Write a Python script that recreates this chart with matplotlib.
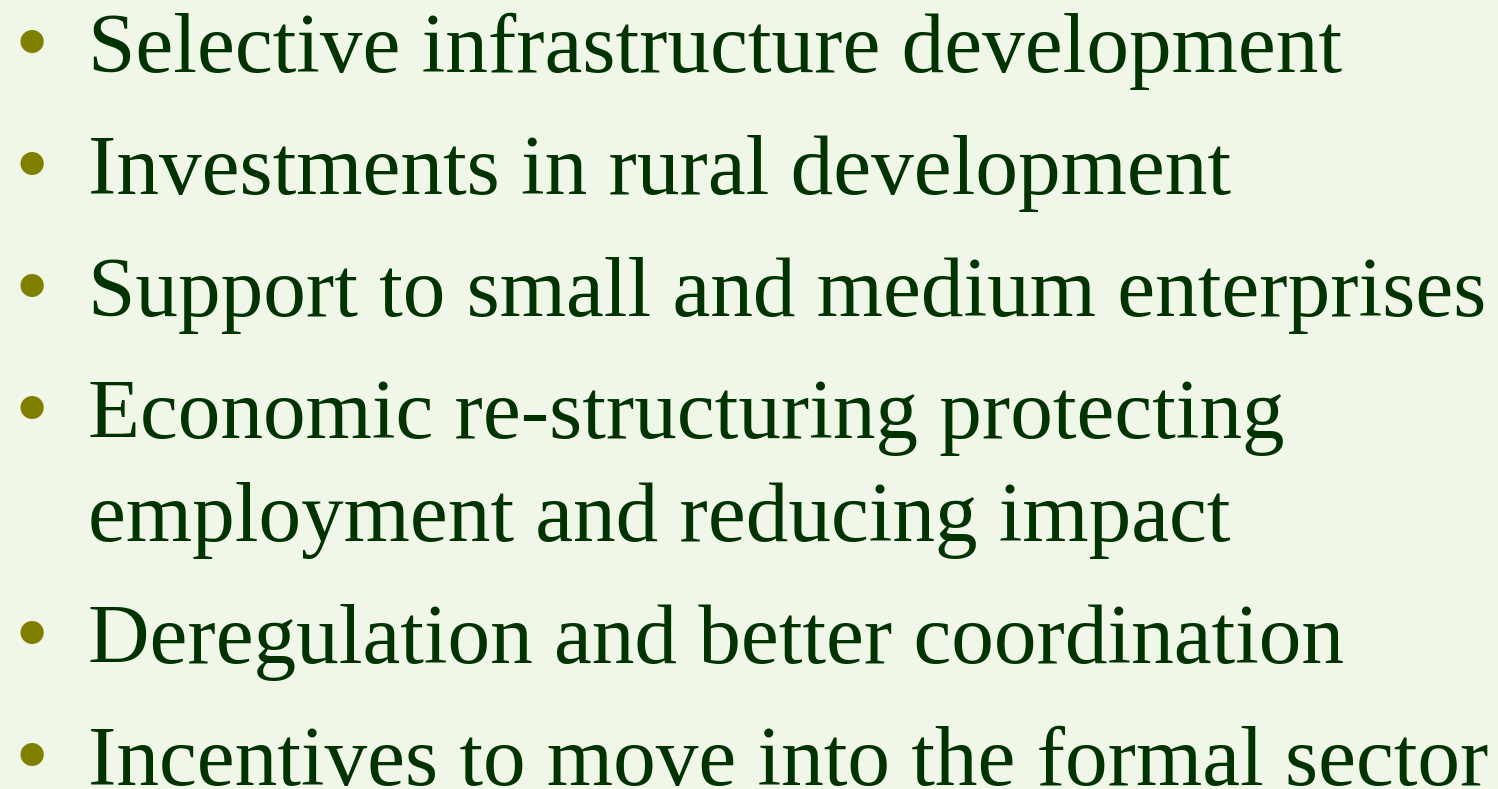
import matplotlib.pyplot as plt

# slide content: each item is a list of wrapped lines
items = [
    ["Selective infrastructure development"],
    ["Investments in rural development"],
    ["Support to small and medium enterprises"],
    ["Economic re-structuring protecting", "employment and reducing impact"],
    ["Deregulation and better coordination"],
    ["Incentives to move into the formal sector"],
]

W, H = 1498, 789
bg = "#f0f6e8"
txt_col = "#003300"
bullet_col = "#808000"

fig = plt.figure(figsize=(W / 100, H / 100), dpi=100, facecolor=bg)
ax = fig.add_axes([0, 0, 1, 1])
ax.set_xlim(0, W)
ax.set_ylim(H, 0)
ax.axis("off")

font = "Liberation Serif"
size = 61.3
y = 72  # baseline of first line
for item in items:
    ax.text(14, y + 2, "\u2022", fontsize=size * 1.15, family=font, color=bullet_col, va="baseline", ha="left")
    for k, line in enumerate(item):
        ax.text(88, y, line, fontsize=size, family=font, color=txt_col, va="baseline", ha="left")
        y += 103 if k < len(item) - 1 else 0
    y += 122

fig.savefig("out.png", dpi=100, facecolor=bg)
